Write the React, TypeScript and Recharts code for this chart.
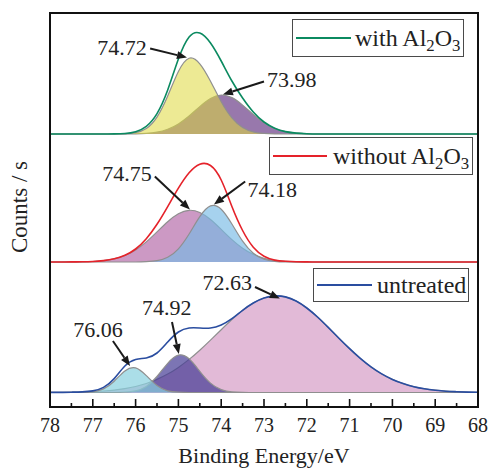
import { ComposedChart, Area, Line, XAxis, YAxis, ReferenceLine, ReferenceDot, Legend } from 'recharts'

const FONT = '"Liberation Serif", "Times New Roman", serif'

// binding energy grid (eV), shared by every panel
const energies = [
  78, 77.75, 77.5, 77.25, 77, 76.75, 76.5, 76.25, 76, 75.75, 75.5, 75.25, 75, 74.75, 74.5, 74.25, 74, 73.75, 73.5, 73.25,
  73, 72.75, 72.5, 72.25, 72, 71.75, 71.5, 71.25, 71, 70.75, 70.5, 70.25, 70, 69.75, 69.5, 69.25, 69, 68.75, 68.5, 68.25, 68,
]

// with Al2O3
const withPeak7472 = [
  0, 0, 0, 0, 0, 0, 0, 0.2, 1.3, 5.5, 16.9, 38.0, 62.6, 75.8, 70.2, 52.8, 32.3, 16.1, 6.5, 2.1,
  0.6, 0.1, 0, 0, 0, 0, 0, 0, 0, 0, 0, 0, 0, 0, 0, 0, 0, 0, 0, 0, 0,
]
const withPeak7398 = [
  0, 0, 0, 0, 0, 0, 0, 0, 0.2, 0.7, 1.9, 4.8, 10.1, 18.0, 27.4, 35.5, 39.0, 36.4, 28.9, 19.5,
  11.2, 5.5, 2.3, 0.8, 0.2, 0, 0, 0, 0, 0, 0, 0, 0, 0, 0, 0, 0, 0, 0, 0, 0,
]
const withEnvelope = [
  0, 0, 0, 0, 0, 0, 0.1, 0.5, 2.3, 7.7, 20.4, 44, 75, 97, 101, 91, 73, 53, 36, 22,
  12, 5.8, 2.4, 0.9, 0.3, 0, 0, 0, 0, 0, 0, 0, 0, 0, 0, 0, 0, 0, 0, 0, 0,
]

// without Al2O3
const withoutPeak7475 = [
  0, 0, 0.1, 0.2, 0.5, 1.3, 3.1, 6.5, 12.1, 20.1, 30.1, 40.3, 48.2, 51.7, 49.5, 42.5, 32.6, 22.4, 13.8, 7.6,
  3.7, 1.6, 0.6, 0.2, 0, 0, 0, 0, 0, 0, 0, 0, 0, 0, 0, 0, 0, 0, 0, 0, 0,
]
const withoutPeak7418 = [
  0, 0, 0, 0, 0, 0, 0, 0, 0, 0.3, 1.3, 4.7, 13.2, 28.0, 45.4, 56.1, 52.8, 38.0, 20.8, 8.7,
  2.8, 0.7, 0.1, 0, 0, 0, 0, 0, 0, 0, 0, 0, 0, 0, 0, 0, 0, 0, 0, 0, 0,
]
const withoutEnvelope = [
  0, 0, 0.1, 0.2, 0.5, 1.4, 3.2, 6.7, 13.0, 23.3, 37.7, 55.4, 73.8, 89.2, 97.8, 96.5, 82, 55.5, 31.5, 14.8,
  5.8, 1.9, 0.7, 0.2, 0.1, 0, 0, 0, 0, 0, 0, 0, 0, 0, 0, 0, 0, 0, 0, 0, 0,
]

// untreated
const untreatedPeak7606 = [
  0, 0, 0, 0.1, 0.7, 3.6, 11.3, 21.6, 24.6, 16.9, 7.0, 1.7, 0.3, 0, 0, 0, 0, 0, 0, 0,
  0, 0, 0, 0, 0, 0, 0, 0, 0, 0, 0, 0, 0, 0, 0, 0, 0, 0, 0, 0, 0,
]
const untreatedPeak7492 = [
  0, 0, 0, 0, 0, 0, 0, 0.3, 1.7, 6.1, 16.0, 29.2, 37.4, 33.7, 21.2, 9.4, 2.9, 0.6, 0.1, 0,
  0, 0, 0, 0, 0, 0, 0, 0, 0, 0, 0, 0, 0, 0, 0, 0, 0, 0, 0, 0, 0,
]
const untreatedPeak7263 = [
  0.1, 0.1, 0.3, 0.5, 0.9, 1.5, 2.4, 3.9, 6.0, 9.0, 13.1, 18.4, 25.1, 33.1, 42.3, 52.4, 62.8, 73.0, 82.1, 89.5,
  94.5, 96.6, 95.6, 91.5, 84.5, 75.5, 65.1, 54.3, 43.8, 34.1, 25.6, 18.6, 13.1, 8.9, 5.8, 3.7, 2.3, 1.3, 0.8, 0.4, 0.2,
]
const untreatedEnvelope = [
  0.1, 0.1, 0.3, 0.6, 1.6, 5.1, 13.9, 26.5, 33.0, 34.5, 39.5, 50.5, 60.5, 64.5, 64.5, 64.5, 67.5, 73.8, 82.2, 89.5,
  94.5, 96.6, 95.6, 91.5, 84.5, 75.5, 65.1, 54.3, 43.8, 34.1, 25.6, 18.6, 13.1, 8.9, 5.8, 3.7, 2.3, 1.3, 0.8, 0.4, 0.2,
]

const energyTicks = [78, 77.5, 77, 76.5, 76, 75.5, 75, 74.5, 74, 73.5, 73, 72.5, 72, 71.5, 71, 70.5, 70, 69.5, 69, 68.5, 68]

// peak labels: text placed at [eV, counts], arrow from -> to
const withNotes = [
  { text: '74.72', at: [76.32, 86.5], from: [75.66, 85.5], to: [74.8, 76.5] },
  { text: '73.98', at: [72.35, 54.5], from: [73.0, 52.5], to: [73.96, 39.5] },
]
const withoutNotes = [
  { text: '74.75', at: [76.2, 88.5], from: [75.55, 85.5], to: [74.73, 52.5] },
  { text: '74.18', at: [72.81, 72.5], from: [73.44, 80.5], to: [74.17, 57.5] },
]
const untreatedNotes = [
  { text: '72.63', at: [73.86, 110.5], from: [73.21, 105.5], to: [72.63, 94] },
  { text: '74.92', at: [75.27, 85.5], from: [75.15, 70.5], to: [74.99, 38.5] },
  { text: '76.06', at: [76.88, 63.5], from: [76.53, 51.5], to: [76.13, 26.5] },
]

const makeRows = (series: Record<string, number[]>) =>
  energies.map((e, i) => {
    const row: Record<string, number> = { e }
    Object.keys(series).forEach(k => { row[k] = series[k][i] })
    return row
  })

const Arrow = (p: any) => {
  const { x1, y1, x2, y2 } = p
  const a = Math.atan2(y2 - y1, x2 - x1)
  const L = 10, W = 4
  const bx = x2 - L * Math.cos(a), by = y2 - L * Math.sin(a)
  const nx = -Math.sin(a) * W, ny = Math.cos(a) * W
  return (
    <g>
      <line x1={x1} y1={y1} x2={bx} y2={by} stroke="#1a1a1a" strokeWidth={2} />
      <polygon points={`${x2},${y2} ${bx + nx},${by + ny} ${bx - nx},${by - ny}`} fill="#1a1a1a" />
    </g>
  )
}

const renderName = (name: string) =>
  name.split(/(\d)/).map((part, i) =>
    /\d/.test(part) ? (
      <span key={i} style={{ fontSize: '0.7em', position: 'relative', top: '0.3em' }}>{part}</span>
    ) : (
      <span key={i}>{part}</span>
    )
  )

const EnergyTick = ({ x, y, payload }: any) => {
  const major = Number.isInteger(payload.value)
  return (
    <g>
      <line x1={x} x2={x} y1={y} y2={y - (major ? 8 : 4)} stroke="#111" strokeWidth={1.6} />
      {major && (
        <text x={x} y={y + 18} textAnchor="middle" dominantBaseline="central" fontSize={20} fill="#222" fontFamily={FONT}>
          {payload.value}
        </text>
      )}
    </g>
  )
}

interface Fill { key: string; color: string; opacity: number }
interface Box { left: number; top: number; width: number; height: number; lineW: number; gap: number }

function Panel({ top, plotH, domain, rows, fills, envKey, envColor, envName, notes, box, showAxis }: {
  top: number; plotH: number; domain: [number, number]; rows: any[]; fills: Fill[]; envKey: string
  envColor: string; envName: string; notes: typeof withNotes; box: Box; showAxis?: boolean
}) {
  const axisH = showAxis ? 61 : 0
  const pad = showAxis ? 0 : 3
  return (
    <div style={{ position: 'absolute', left: 0, top }}>
      <ComposedChart width={488} height={plotH + axisH + pad} data={rows} margin={{ top: 0, right: 10, bottom: pad, left: 50 }}>
        <XAxis
          dataKey="e" type="number" domain={[68, 78]} reversed hide={!showAxis}
          ticks={energyTicks} interval={0} tickSize={0} tickMargin={0} axisLine={false}
          tick={<EnergyTick />} height={axisH}
          label={{ value: 'Binding Energy/eV', position: 'insideBottom', offset: 5, fontSize: 22, fill: '#222', fontFamily: FONT }}
        />
        <YAxis hide type="number" domain={domain} />
        {fills.map(f => (
          <Area key={f.key} dataKey={f.key} type="natural" baseValue={0} fill={f.color} fillOpacity={f.opacity}
            stroke="#8f8f8f" strokeWidth={1.2} dot={false} activeDot={false} legendType="none" isAnimationActive={false} />
        ))}
        <Line dataKey={envKey} name={envName} type="natural" stroke={envColor} strokeWidth={1.6} dot={false}
          activeDot={false} isAnimationActive={false} />
        {notes.map(n => (
          <ReferenceLine key={n.text + 'a'} segment={[{ x: n.from[0], y: n.from[1] }, { x: n.to[0], y: n.to[1] }]} shape={Arrow} />
        ))}
        {notes.map(n => (
          <ReferenceDot key={n.text} x={n.at[0]} y={n.at[1]} r={0}
            shape={(p: any) => (
              <text x={p.cx} y={p.cy} textAnchor="middle" dominantBaseline="central" fontSize={22} fill="#222" fontFamily={FONT}>
                {n.text}
              </text>
            )}
          />
        ))}
        <Legend
          layout="vertical" align="center" verticalAlign="middle"
          wrapperStyle={{ left: box.left, top: box.top, width: box.width, height: box.height, right: 'auto', bottom: 'auto' }}
          content={() => (
            <div style={{
              boxSizing: 'border-box', width: box.width, height: box.height, border: '1.5px solid #4a4a4a', background: '#fff',
              display: 'flex', alignItems: 'center', paddingLeft: 3, fontFamily: FONT, fontSize: 24, color: '#222', lineHeight: 1,
            }}>
              <div style={{ width: box.lineW, height: 2, background: envColor }} />
              <div style={{ marginLeft: box.gap, whiteSpace: 'nowrap' }}>{renderName(envName)}</div>
            </div>
          )}
        />
      </ComposedChart>
    </div>
  )
}

export default function App() {
  const withRows = makeRows({ a: withPeak7472, b: withPeak7398, env: withEnvelope })
  const withoutRows = makeRows({ a: withoutPeak7475, b: withoutPeak7418, env: withoutEnvelope })
  const untreatedRows = makeRows({ a: untreatedPeak7606, b: untreatedPeak7492, c: untreatedPeak7263, env: untreatedEnvelope })

  return (
    <div style={{ position: 'absolute', left: 0, top: 0, width: 488, height: 468, background: '#fff', overflow: 'hidden', fontFamily: FONT }}>
      <Panel top={13} plotH={121} domain={[0, 121]} rows={withRows}
        fills={[{ key: 'b', color: '#9878ac', opacity: 1 }, { key: 'a', color: 'rgb(222,217,60)', opacity: 0.55 }]}
        envKey="env" envColor="#0b8a60" envName="with Al2O3" notes={withNotes}
        box={{ left: 292, top: 6, width: 172, height: 38, lineW: 55, gap: 4 }} />
      <Panel top={134} plotH={128} domain={[0, 128]} rows={withoutRows}
        fills={[{ key: 'a', color: '#cc99c4', opacity: 1 }, { key: 'b', color: 'rgb(118,186,229)', opacity: 0.65 }]}
        envKey="env" envColor="#e5222a" envName="without Al2O3" notes={withoutNotes}
        box={{ left: 269, top: 3, width: 204, height: 38, lineW: 54, gap: 6 }} />
      <Panel top={262} plotH={145} domain={[-14.5, 130.5]} rows={untreatedRows} showAxis
        fills={[
          { key: 'c', color: '#e2bad7', opacity: 1 },
          { key: 'b', color: 'rgb(69,59,148)', opacity: 0.7 },
          { key: 'a', color: 'rgb(136,208,222)', opacity: 0.7 },
        ]}
        envKey="env" envColor="#2a4da0" envName="untreated" notes={untreatedNotes}
        box={{ left: 313, top: 6, width: 156, height: 34, lineW: 55, gap: 5 }} />
      <div style={{
        position: 'absolute', left: 20, top: 207, transform: 'translate(-50%, -50%) rotate(-90deg)',
        fontSize: 23, color: '#222', whiteSpace: 'nowrap',
      }}>
        Counts / s
      </div>
      <div style={{
        position: 'absolute', left: 49, top: 12, width: 430, height: 396, border: '2px solid #111',
        boxSizing: 'border-box', pointerEvents: 'none',
      }} />
    </div>
  )
}
